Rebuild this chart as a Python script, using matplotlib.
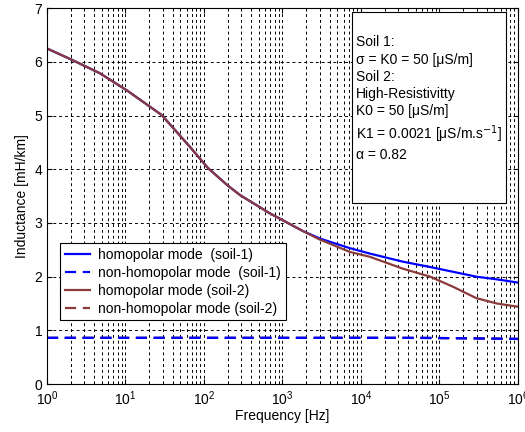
import matplotlib.pyplot as plt
import numpy as np

plt.rcParams['font.family'] = ['Liberation Sans', 'DejaVu Sans']

# data
freq = [1, 2, 4.7, 10.4, 29, 66, 113, 200, 288, 690, 1820, 3000, 7250,
        1.3e4, 3.4e4, 7.6e4, 1.5e5, 2.95e5, 5.4e5, 1e6]
homo_soil1 = [6.25, 6.05, 5.79, 5.47, 5.01, 4.42, 4.02, 3.7, 3.52, 3.18, 2.85, 2.71, 2.53,
              2.43, 2.28, 2.18, 2.09, 2.0, 1.95, 1.89]
homo_soil2 = [6.25, 6.05, 5.79, 5.47, 5.01, 4.42, 4.02, 3.7, 3.52, 3.18, 2.85, 2.69, 2.46,
              2.37, 2.15, 2.0, 1.81, 1.60, 1.50, 1.44]
nonhomo_soil1 = [0.86, 0.86, 0.86, 0.86, 0.86, 0.86, 0.86, 0.86, 0.86, 0.86, 0.86, 0.86, 0.86,
                 0.86, 0.86, 0.858, 0.855, 0.85, 0.845, 0.84]
nonhomo_soil2 = [0.86, 0.86, 0.86, 0.86, 0.86, 0.86, 0.86, 0.86, 0.86, 0.86, 0.86, 0.86, 0.86,
                 0.86, 0.86, 0.858, 0.855, 0.85, 0.845, 0.84]

fig = plt.figure(figsize=(5.25, 4.32), dpi=100)
ax = fig.add_axes([0.0895, 0.111, 0.897, 0.87])

blue = '#0000ff'
brown = '#8b3a3a'
ax.plot(freq, homo_soil1, color=blue, lw=1.6, label='homopolar mode  (soil-1)')
ax.plot(freq, nonhomo_soil1, color=blue, lw=1.6, ls=(0, (5, 3)), label='non-homopolar mode  (soil-1)')
ax.plot(freq, homo_soil2, color=brown, lw=1.6, label='homopolar mode (soil-2)')
ax.plot(freq, nonhomo_soil2, color=brown, lw=1.6, ls=(0, (5, 3)), label='non-homopolar mode (soil-2)')
# blue dashed drawn over the brown dashed, as in the reference
ax.plot(freq, nonhomo_soil1, color=blue, lw=1.6, ls=(0, (5, 3)))

ax.set_xscale('log')
ax.set_xlim(1, 1e6)
ax.set_ylim(0, 7)
ax.set_yticks(range(8))
ax.grid(True, which='major', color='black', ls=(0, (3, 3)), lw=0.7)
ax.grid(True, which='minor', axis='x', color='black', ls=(0, (3, 3)), lw=0.7)
ax.tick_params(which='both', direction='in', top=True, right=True, labelsize=10)
ax.set_xlabel('Frequency [Hz]', fontsize=10, labelpad=1)
ax.set_ylabel('Inductance [mH/km]', fontsize=10, labelpad=4)

leg = ax.legend(loc='upper left', bbox_to_anchor=(0.027, 0.375), fontsize=10,
                fancybox=False, framealpha=1, edgecolor='black', borderpad=0.35,
                handlelength=1.8, handletextpad=0.6, labelspacing=0.28, borderaxespad=0)
leg.get_frame().set_linewidth(0.8)

txt = ('Soil 1:\n'
       '\u03c3 = K0 = 50 [\u03bcS/m]\n'
       'Soil 2:\n'
       'High-Resistivitty\n'
       'K0 = 50 [\u03bcS/m]\n'
       'K1 = 0.0021 [\u03bcS/m.s$^{-1}$]\n'
       '\u03b1 = 0.82')
box = plt.Rectangle((0.648, 0.481), 0.327, 0.508, transform=ax.transAxes, facecolor='white',
                    edgecolor='black', lw=0.8, zorder=2.5)
ax.add_patch(box)
ax.text(0.656, 0.928, txt, transform=ax.transAxes, fontsize=10, va='top', ha='left',
        linespacing=1.3, zorder=3)

fig.savefig('out.png', dpi=100, facecolor='white')
